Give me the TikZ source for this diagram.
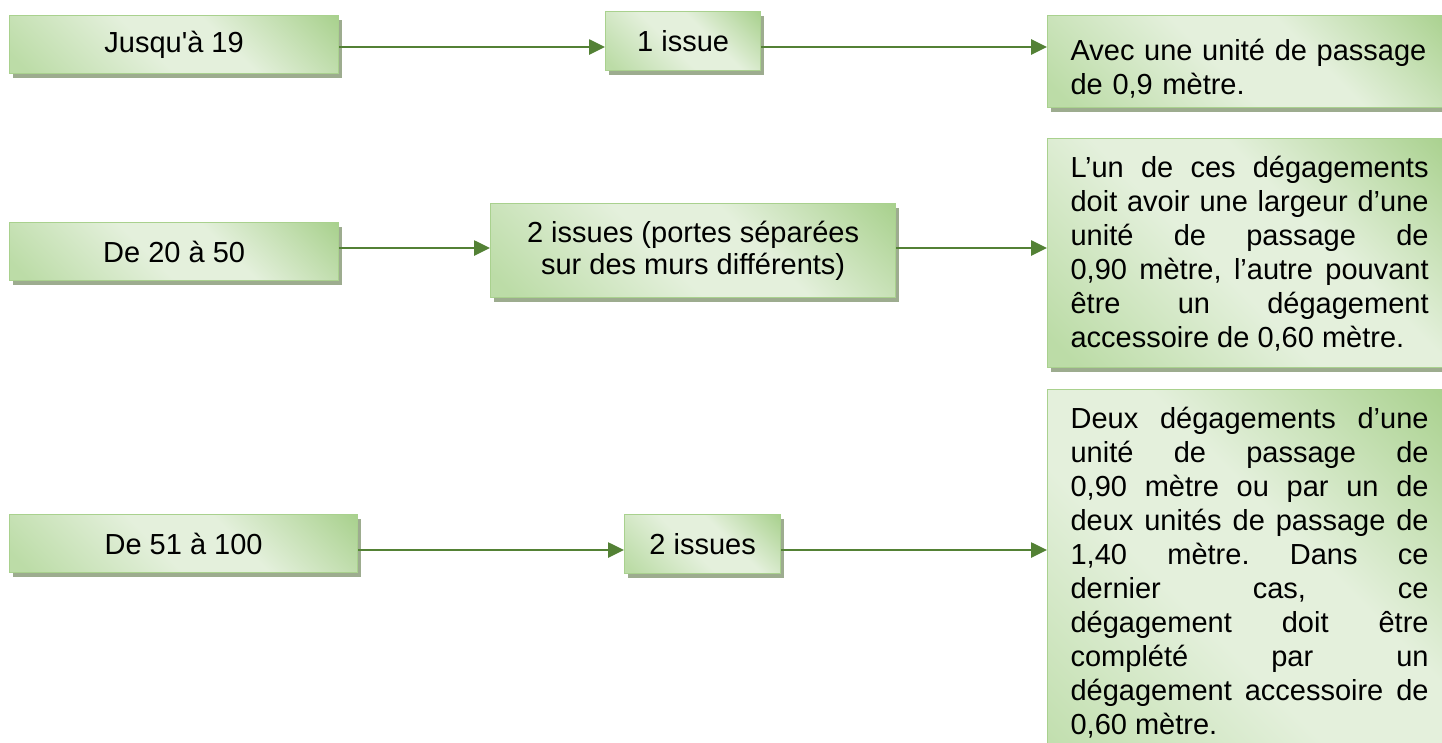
\documentclass[tikz,border=0pt]{standalone}
\usepackage{fontspec}
\setmainfont{Liberation Sans}
\usetikzlibrary{arrows.meta,shadows}
\definecolor{gdark}{RGB}{169,209,142}
\definecolor{gmid}{RGB}{188,220,167}
\definecolor{glight}{RGB}{228,240,220}
\definecolor{gborder}{RGB}{169,209,142}
\definecolor{arrowc}{RGB}{83,129,53}
\definecolor{shadowc}{RGB}{157,172,143}
\pgfdeclarehorizontalshading{greenbox}{100bp}{color(0bp)=(gmid); color(18bp)=(gmid); color(45bp)=(glight); color(60bp)=(glight); color(85bp)=(gdark); color(100bp)=(gdark)}
\hyphenpenalty=10000
\exhyphenpenalty=10000
\tolerance=10000
\frenchspacing
\begin{document}
\begin{tikzpicture}[x=1pt,y=-1pt,
  box/.style={draw=gborder, line width=1.2pt, shading=greenbox, shading angle=45,
    drop shadow={shadow xshift=3pt, shadow yshift=-4pt, fill=shadowc, opacity=1},
    inner sep=0pt, anchor=north west, font=\fontsize{29}{34}\selectfont},
  smallbox/.style={box, align=center},
  textbox/.style={box, text width=358pt, inner xsep=23pt, inner ysep=0pt},
  arr/.style={draw=arrowc, line width=2.6pt, -{Triangle[length=16pt,width=15pt]}}]
\useasboundingbox (0,0) rectangle (1442,742);
\clip (0,0) rectangle (1442,742);

% left column
\node[smallbox, minimum width=329pt, minimum height=58pt] (a1) at (9,15) {Jusqu\textquotesingle à 19};
\node[smallbox, minimum width=329pt, minimum height=58pt] (a2) at (9,222) {De 20 à 50};
\node[smallbox, minimum width=348pt, minimum height=58pt] (a3) at (9,514) {De 51 à 100};

% middle column
\node[smallbox, minimum width=155pt, minimum height=59pt] (b1) at (605,11) {1 issue};
\node[smallbox, minimum width=405pt, minimum height=94pt, font=\fontsize{29}{32}\selectfont] (b2) at (490,203) {2 issues (portes séparées\\sur des murs différents)};
\node[smallbox, minimum width=156pt, minimum height=59pt] (b3) at (624,514) {2 issues};

% right column
\node[textbox, align=left, text height=45pt, text depth=47pt] (c1) at (1047,15)
  {Avec une unité de passage\\de 0,9 mètre.};
\node[textbox, align=justify, text height=39pt, text depth=190pt] (c2) at (1047,138)
  {L’un de ces dégagements\linebreak doit avoir une largeur d’une\linebreak unité de passage de\linebreak 0,90 mètre, l’autre pouvant\linebreak être un dégagement\linebreak accessoire de 0,60 mètre.};
\node[textbox, align=justify, text height=39pt, text depth=400pt] (c3) at (1047,389)
  {Deux dégagements d’une\linebreak unité de passage de\linebreak 0,90 mètre ou par un de\linebreak deux unités de passage de\linebreak 1,40 mètre. Dans ce\linebreak dernier cas, ce\linebreak dégagement doit être\linebreak complété par un\linebreak dégagement accessoire de\linebreak 0,60 mètre.};

% connectors
\coordinate (r1) at (0,47);
\coordinate (r2) at (0,248);
\coordinate (r3) at (0,550);
\draw[arr] (a1.east |- r1) -- (b1.west |- r1);
\draw[arr] (b1.east |- r1) -- (c1.west |- r1);
\draw[arr] (a2.east |- r2) -- (b2.west |- r2);
\draw[arr] (b2.east |- r2) -- (c2.west |- r2);
\draw[arr] (a3.east |- r3) -- (b3.west |- r3);
\draw[arr] (b3.east |- r3) -- (c3.west |- r3);
\end{tikzpicture}
\end{document}
